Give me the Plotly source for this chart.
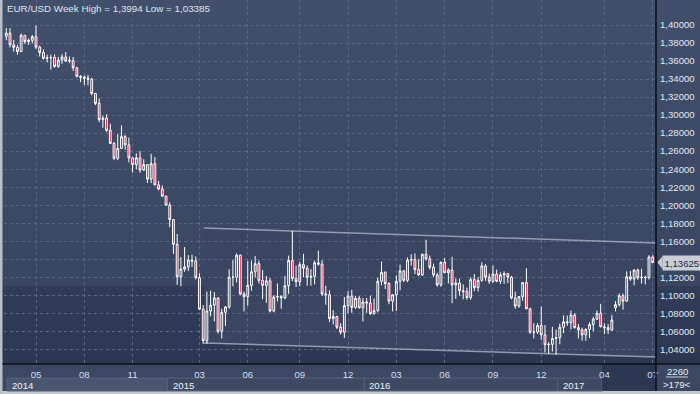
import plotly.graph_objects as go

# ---------------- data (weekly EUR/USD bars, Mar 2014 - Jul 2017) ----------------
# one bar per week; the week spanning New Year 2014/2015 is split in two bars
open_ = [
    # 2014
    1.3740, 1.3875, 1.3910, 1.3780, 1.3750,
    1.3705, 1.3885, 1.3815, 1.3830,
    1.3870, 1.3755, 1.3695, 1.3630,
    1.3635, 1.3640, 1.3540, 1.3610, 1.3645,
    1.3600, 1.3605, 1.3525, 1.3430,
    1.3420, 1.3410, 1.3400, 1.3240,
    1.3130, 1.2950, 1.2965, 1.2830, 1.2685,
    1.2520, 1.2630, 1.2760, 1.2670,
    1.2525, 1.2450, 1.2525, 1.2390,
    1.2450, 1.2290, 1.2460, 1.2225, 1.2180,
    # 2015
    1.2100, 1.2000, 1.1840, 1.1565, 1.1205,
    1.1290, 1.1315, 1.1390, 1.1380,
    1.1195, 1.0845, 1.0495, 1.0825, 1.0890,
    1.0970, 1.0600, 1.0810, 1.0870,
    1.1200, 1.1200, 1.1445, 1.1015,
    1.0985, 1.1110, 1.1260, 1.1350, 1.1165,
    1.1110, 1.1160, 1.0825, 1.0980,
    1.0985, 1.0970, 1.1105, 1.1385, 1.1185,
    1.1150, 1.1340, 1.1300, 1.1200,
    1.1210, 1.1360, 1.1345, 1.1015,
    1.1005, 1.0740, 1.0765, 1.0645, 1.0590,
    1.0885, 1.0990, 1.0865, 1.0965,
    # 2016
    1.0860, 1.0925, 1.0915, 1.0795,
    1.0830, 1.1155, 1.1255, 1.1130, 1.0935,
    1.1005, 1.1155, 1.1270, 1.1165,
    1.1390, 1.1395, 1.1285, 1.1225,
    1.1455, 1.1405, 1.1310, 1.1225, 1.1115,
    1.1365, 1.1250, 1.1280, 1.1115,
    1.1135, 1.1050, 1.1040, 1.0975,
    1.1175, 1.1085, 1.1165, 1.1325, 1.1200,
    1.1155, 1.1235, 1.1155, 1.1225,
    1.1240, 1.1200, 1.0970, 1.0880, 1.0985,
    1.1140, 1.0850, 1.0590, 1.0590,
    1.0665, 1.0560, 1.0450, 1.0455,
    # 2017
    1.0520, 1.0530, 1.0645, 1.0705, 1.0695,
    1.0780, 1.0640, 1.0615, 1.0560,
    1.0620, 1.0675, 1.0735, 1.0800,
    1.0650, 1.0640, 1.0615, 1.0860,
    1.0895, 1.0995, 1.0935, 1.1205, 1.1180,
    1.1280, 1.1195, 1.1200, 1.1195,
    1.1425,
]
high = [
    # 2014
    1.3915, 1.3967, 1.3965, 1.3835, 1.3780,
    1.3905, 1.3890, 1.3850, 1.3890,
    1.3994, 1.3770, 1.3730, 1.3670,
    1.3670, 1.3675, 1.3645, 1.3675, 1.3700,
    1.3650, 1.3645, 1.3535, 1.3445,
    1.3440, 1.3445, 1.3410, 1.3245,
    1.3185, 1.2995, 1.3010, 1.2905, 1.2700,
    1.2790, 1.2885, 1.2780, 1.2750,
    1.2530, 1.2575, 1.2600, 1.2510,
    1.2455, 1.2570, 1.2535, 1.2270, 1.2220,
    # 2015
    1.2105, 1.2030, 1.1845, 1.1680, 1.1425,
    1.1535, 1.1445, 1.1450, 1.1430,
    1.1245, 1.0890, 1.1040, 1.1050, 1.1035,
    1.0975, 1.0850, 1.0880, 1.1290,
    1.1390, 1.1465, 1.1450, 1.1040,
    1.1380, 1.1385, 1.1435, 1.1385, 1.1280,
    1.1215, 1.1190, 1.1000, 1.1130,
    1.1000, 1.1215, 1.1440, 1.1714, 1.1330,
    1.1370, 1.1460, 1.1330, 1.1290,
    1.1385, 1.1495, 1.1390, 1.1105,
    1.1055, 1.0835, 1.0765, 1.0690, 1.0980,
    1.1045, 1.1060, 1.0990, 1.0990,
    # 2016
    1.0970, 1.0970, 1.0995, 1.0965,
    1.1195, 1.1375, 1.1265, 1.1145, 1.1010,
    1.1220, 1.1340, 1.1280, 1.1420,
    1.1455, 1.1465, 1.1400, 1.1460,
    1.1616, 1.1440, 1.1350, 1.1250, 1.1375,
    1.1415, 1.1300, 1.1428, 1.1185,
    1.1185, 1.1120, 1.1085, 1.1200,
    1.1235, 1.1200, 1.1365, 1.1345, 1.1240,
    1.1330, 1.1285, 1.1255, 1.1265,
    1.1245, 1.1215, 1.1040, 1.0990, 1.1145,
    1.1300, 1.0860, 1.0690, 1.0690,
    1.0875, 1.0670, 1.0480, 1.0650,
    # 2017
    1.0620, 1.0685, 1.0775, 1.0775, 1.0830,
    1.0800, 1.0680, 1.0640, 1.0635,
    1.0700, 1.0760, 1.0830, 1.0905,
    1.0690, 1.0680, 1.0780, 1.0935,
    1.1020, 1.1020, 1.1265, 1.1270, 1.1285,
    1.1295, 1.1295, 1.1215, 1.1445,
    1.1445,
]
low = [
    # 2014
    1.3740, 1.3830, 1.3750, 1.3705, 1.3670,
    1.3700, 1.3790, 1.3780, 1.3795,
    1.3735, 1.3650, 1.3615, 1.3585,
    1.3505, 1.3525, 1.3525, 1.3570, 1.3590,
    1.3575, 1.3490, 1.3420, 1.3365,
    1.3335, 1.3330, 1.3220, 1.3110,
    1.2920, 1.2860, 1.2810, 1.2680, 1.2500,
    1.2500, 1.2625, 1.2615, 1.2475,
    1.2360, 1.2400, 1.2360, 1.2380,
    1.2245, 1.2245, 1.2220, 1.2165, 1.2095,
    # 2015
    1.1995, 1.1755, 1.1460, 1.1115, 1.1100,
    1.1260, 1.1270, 1.1315, 1.1175,
    1.0840, 1.0460, 1.0460, 1.0765, 1.0710,
    1.0575, 1.0520, 1.0660, 1.0850,
    1.1100, 1.1140, 1.1000, 1.0820,
    1.0885, 1.1050, 1.1195, 1.1130, 1.0955,
    1.0915, 1.0810, 1.0810, 1.0930,
    1.0850, 1.0955, 1.1015, 1.1155, 1.1090,
    1.1100, 1.1200, 1.1105, 1.1105,
    1.1120, 1.1330, 1.0990, 1.0895,
    1.0705, 1.0675, 1.0625, 1.0565, 1.0525,
    1.0800, 1.0805, 1.0850, 1.0855,
    # 2016
    1.0710, 1.0805, 1.0780, 1.0785,
    1.0810, 1.1110, 1.1070, 1.0900, 1.0820,
    1.0825, 1.1055, 1.1145, 1.1145,
    1.1330, 1.1235, 1.1215, 1.1215,
    1.1385, 1.1285, 1.1200, 1.1095, 1.1095,
    1.1245, 1.1130, 1.0912, 1.0960,
    1.0995, 1.0955, 1.0950, 1.0950,
    1.1045, 1.1040, 1.1150, 1.1160, 1.1125,
    1.1135, 1.1145, 1.1125, 1.1125,
    1.1135, 1.0955, 1.0850, 1.0860, 1.0940,
    1.0845, 1.0570, 1.0520, 1.0570,
    1.0505, 1.0365, 1.0350, 1.0375,
    # 2017
    1.03385, 1.0455, 1.0580, 1.0660, 1.0620,
    1.0630, 1.0520, 1.0495, 1.0495,
    1.0525, 1.0600, 1.0725, 1.0645,
    1.0570, 1.0570, 1.0605, 1.0820,
    1.0875, 1.0840, 1.0925, 1.1160, 1.1110,
    1.1170, 1.1130, 1.1120, 1.1175,
    1.1355,
]
close = [
    # 2014
    1.3875, 1.3910, 1.3780, 1.3750, 1.3705,
    1.3885, 1.3815, 1.3830, 1.3870,
    1.3755, 1.3695, 1.3630, 1.3635,
    1.3640, 1.3540, 1.3610, 1.3645, 1.3600,
    1.3605, 1.3525, 1.3430, 1.3420,
    1.3410, 1.3400, 1.3240, 1.3130,
    1.2950, 1.2965, 1.2830, 1.2685, 1.2520,
    1.2630, 1.2760, 1.2670, 1.2525,
    1.2450, 1.2525, 1.2390, 1.2450,
    1.2290, 1.2460, 1.2225, 1.2180, 1.2100,
    # 2015
    1.2000, 1.1840, 1.1565, 1.1205, 1.1290,
    1.1315, 1.1390, 1.1380, 1.1195,
    1.0845, 1.0495, 1.0825, 1.0890, 1.0970,
    1.0600, 1.0810, 1.0870, 1.1200,
    1.1200, 1.1445, 1.1015, 1.0985,
    1.1110, 1.1260, 1.1350, 1.1165, 1.1110,
    1.1160, 1.0825, 1.0980, 1.0985,
    1.0970, 1.1105, 1.1385, 1.1185, 1.1150,
    1.1340, 1.1300, 1.1200, 1.1210,
    1.1360, 1.1345, 1.1015, 1.1005,
    1.0740, 1.0765, 1.0645, 1.0590, 1.0885,
    1.0990, 1.0865, 1.0965, 1.0860,
    # 2016
    1.0925, 1.0915, 1.0795, 1.0830,
    1.1155, 1.1255, 1.1130, 1.0935, 1.1005,
    1.1155, 1.1270, 1.1165, 1.1390,
    1.1395, 1.1285, 1.1225, 1.1455,
    1.1405, 1.1310, 1.1225, 1.1115, 1.1365,
    1.1250, 1.1280, 1.1115, 1.1135,
    1.1050, 1.1040, 1.0975, 1.1175,
    1.1085, 1.1165, 1.1325, 1.1200, 1.1155,
    1.1235, 1.1155, 1.1225, 1.1240,
    1.1200, 1.0970, 1.0880, 1.0985, 1.1140,
    1.0850, 1.0590, 1.0590, 1.0665,
    1.0560, 1.0450, 1.0455, 1.0520,
    # 2017
    1.0530, 1.0645, 1.0705, 1.0695, 1.0780,
    1.0640, 1.0615, 1.0560, 1.0620,
    1.0675, 1.0735, 1.0800, 1.0650,
    1.0640, 1.0615, 1.0725, 1.0895,
    1.0995, 1.0935, 1.1205, 1.1180, 1.1280,
    1.1195, 1.1200, 1.1195, 1.1425,
    1.13625,
]
assert len(open_) == len(high) == len(low) == len(close)
bars = list(range(len(close)))

# axis labelling (bar index of first bar of the labelled month / year)
month_tick_bars = [9, 22, 35, 53, 66, 80, 93, 106, 119, 132, 145, 162, 175]
month_tick_text = ["05", "08", "11", "03", "06", "09", "12", "03", "06", "09", "12", "04", "07"]
year_first_bars = [44, 97, 149]
year_text = ["2014", "2015", "2016", "2017"]
price_ticks = [1.04, 1.06, 1.08, 1.10, 1.12, 1.14, 1.16, 1.18, 1.20, 1.22, 1.24,
               1.26, 1.28, 1.30, 1.32, 1.34, 1.36, 1.38, 1.40]
# the 1,14000 label is hidden behind the last-price marker in the reference
price_tick_text = ["1,04000", "1,06000", "1,08000", "1,10000", "1,12000", "",
                   "1,16000", "1,18000", "1,20000", "1,22000", "1,24000", "1,26000",
                   "1,28000", "1,30000", "1,32000", "1,34000", "1,36000", "1,38000", "1,40000"]
last_price = 1.13625
last_price_text = "1,13625"
title_text = "EUR/USD Week High = 1,3994 Low = 1,03385"
corner_top, corner_bottom = "2260", ">179<"

# drawn channel (trend lines)
trend_bars = [54.2, 175.9]
upper_line = [1.1746, 1.1580]
lower_line = [1.0470, 1.0314]

# ---------------- layout geometry ----------------
W, H = 700, 394
ML, MR, MT, MB = 4, 44, 0, 30
PW, PH = W - ML - MR, H - MT - MB
x_range = [0.386, 175.89]
y_range = [1.02367, 1.42775]
FONT = "Liberation Sans, Arial, sans-serif"
GRID = "#5a6782"


def px(p):  # pixel x -> paper x
    return (p - ML) / PW


def py(p):  # pixel y (from top) -> paper y
    return (H - MB - p) / PH


def xd(p):  # pixel x -> data x
    return x_range[0] + (p - ML) / PW * (x_range[1] - x_range[0])


shapes = []


def band(y0, y1, c0, c1, n):
    for k in range(n):
        t = (k + 0.5) / n
        c = tuple(round(a + (b - a) * t) for a, b in zip(c0, c1))
        ya = y0 + (y1 - y0) * k / n
        yb = y0 + (y1 - y0) * (k + 1) / n
        shapes.append(dict(type="rect", xref="paper", yref="paper",
                           x0=px(0), x1=px(W), y0=py(min(yb + 0.6, y1)), y1=py(ya),
                           fillcolor="rgb(%d,%d,%d)" % c, line_width=0, layer="below"))


band(0, 286, (0x42, 0x4f, 0x6b), (0x39, 0x46, 0x61), 26)
band(286, 364, (0x31, 0x3d, 0x58), (0x2c, 0x38, 0x52), 8)

# lighter channel area
shapes.append(dict(type="path", xref="x", yref="y", layer="below",
                   path="M %f %f L %f %f L %f %f L %f %f Z" % (
                       trend_bars[0], upper_line[0], trend_bars[1], upper_line[1],
                       trend_bars[1], lower_line[1], trend_bars[0], lower_line[0]),
                   fillcolor="#3a4661", line_width=0))
# trend lines
for lv in (upper_line, lower_line):
    shapes.append(dict(type="line", xref="x", yref="y", layer="between",
                       x0=trend_bars[0], x1=trend_bars[1], y0=lv[0], y1=lv[1],
                       line=dict(color="rgba(175,185,202,0.75)", width=1.5)))

# bottom axis area
shapes.append(dict(type="rect", xref="paper", yref="paper", layer="below",
                   x0=px(0), x1=px(W), y0=py(391), y1=py(364),
                   fillcolor="#3c4862", line_width=0))
shapes.append(dict(type="rect", xref="paper", yref="paper", layer="below",
                   x0=px(0), x1=px(W), y0=py(394), y1=py(391),
                   fillcolor="#c3c7cf", line_width=0))
shapes.append(dict(type="rect", xref="paper", yref="paper", layer="below",
                   x0=px(0), x1=px(2.5), y0=py(394), y1=py(0),
                   fillcolor="#b9bec8", line_width=0))
# year boxes
bounds = [xd(7)] + [b + 0.4 for b in year_first_bars] + [xd(602)]
for i in range(4):
    shapes.append(dict(type="rect", xref="x", yref="paper", layer="below",
                       x0=bounds[i], x1=bounds[i + 1], y0=py(391), y1=py(378),
                       fillcolor="#4a5670" if i == 0 else "#3e4a64",
                       line=dict(color="#56627b", width=1)))
# dark current-range block
shapes.append(dict(type="rect", xref="paper", yref="paper", layer="below",
                   x0=px(602), x1=px(656), y0=py(391), y1=py(364),
                   fillcolor="#2c3852", line_width=0))
# black frame lines
shapes.append(dict(type="line", xref="paper", yref="paper", layer="above",
                   x0=px(656), x1=px(656), y0=py(391), y1=py(0),
                   line=dict(color="#0a0e16", width=1.5)))
shapes.append(dict(type="line", xref="paper", yref="paper", layer="above",
                   x0=px(2.5), x1=px(W), y0=py(364), y1=py(364),
                   line=dict(color="#0a0e16", width=1.5)))
# corner underline
shapes.append(dict(type="line", xref="paper", yref="paper", layer="above",
                   x0=px(666), x1=px(688), y0=py(377), y1=py(377),
                   line=dict(color="#c8d0dc", width=1)))
# last price marker arrow
ph = 6.5 / 900.8
shapes.append(dict(type="path", xref="paper", yref="y", layer="above",
                   path="M %f %f L %f %f L %f %f Z" % (
                       px(657.5), last_price, px(662.5), last_price + ph, px(662.5), last_price - ph),
                   fillcolor="#c9cdd5", line_width=0))

annotations = [
    dict(text=title_text, xref="paper", yref="paper", x=px(5), y=py(8.5),
         xanchor="left", yanchor="middle", showarrow=False,
         font=dict(family=FONT, size=9.8, color="#dfe4ec")),
    dict(text=last_price_text, xref="paper", yref="y", x=px(662), y=last_price,
         xanchor="left", yanchor="middle", showarrow=False, bgcolor="#c9cdd5",
         borderpad=1.5, font=dict(family=FONT, size=9.6, color="#1f2a44")),
    dict(text=corner_top, xref="paper", yref="paper", x=px(677), y=py(371.5),
         xanchor="center", yanchor="middle", showarrow=False,
         font=dict(family=FONT, size=9.6, color="#e6ebf2")),
    dict(text=corner_bottom, xref="paper", yref="paper", x=px(677), y=py(384.5),
         xanchor="center", yanchor="middle", showarrow=False,
         font=dict(family=FONT, size=9.6, color="#e6ebf2")),
]
for i, t in enumerate(year_text):
    annotations.append(dict(text=t, xref="x", yref="paper", x=bounds[i], y=py(385),
                            xanchor="left", yanchor="middle", xshift=3, showarrow=False,
                            font=dict(family=FONT, size=9.6, color="#eef1f5")))

fig = go.Figure()
fig.add_trace(go.Candlestick(
    x=bars, open=open_, high=high, low=low, close=close,
    increasing=dict(line=dict(color="#ffffff", width=1), fillcolor="rgba(0,0,0,0)"),
    decreasing=dict(line=dict(color="#ffffff", width=1), fillcolor="#e8123e"),
    whiskerwidth=0, hoverinfo="skip", showlegend=False,
))

fig.update_layout(
    width=W, height=H, margin=dict(l=ML, r=MR, t=MT, b=MB, pad=0, autoexpand=False),
    paper_bgcolor="#3a4660", plot_bgcolor="rgba(0,0,0,0)",
    font=dict(family=FONT, size=9.6, color="#dfe5ee"),
    showlegend=False,
    xaxis=dict(range=x_range, type="linear", tickmode="array",
               tickvals=month_tick_bars, ticktext=month_tick_text,
               showgrid=True, gridcolor=GRID, gridwidth=1, griddash="3px,3px",
               zeroline=False, showline=False, ticks="", automargin=False,
               tickfont=dict(family=FONT, size=9.6, color="#d2def0"),
               ticklabelstandoff=3, rangeslider=dict(visible=False), fixedrange=True),
    yaxis=dict(range=y_range, side="right", tickmode="array",
               tickvals=price_ticks, ticktext=price_tick_text,
               showgrid=True, gridcolor=GRID, gridwidth=1, griddash="3px,3px",
               zeroline=False, showline=False, ticks="", automargin=False,
               tickfont=dict(family=FONT, size=9.6, color="#e2e8f1"),
               ticklabelstandoff=3, fixedrange=True),
    shapes=shapes, annotations=annotations,
)

fig.write_html(
    "out.html",
    config={"displayModeBar": False},
    post_script="document.body.style.margin='0px';document.body.style.padding='0px';"
                "document.documentElement.style.overflow='hidden';",
)
